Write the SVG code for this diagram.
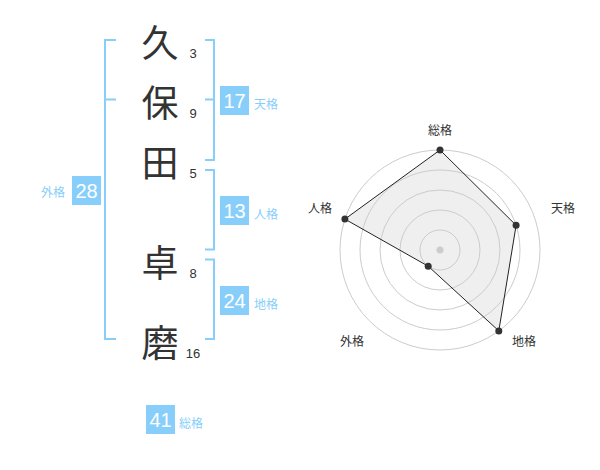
<svg xmlns="http://www.w3.org/2000/svg" width="600" height="470" viewBox="0 0 600 470">
<style>
.bk{fill:none;stroke:#87CEFA;stroke-width:2}
.ch{font-family:"Noto Sans CJK JP","Noto Sans CJK SC",sans-serif;font-size:37px;fill:#333;text-anchor:middle}
.st{font-family:"Liberation Sans",Arial,sans-serif;font-size:13px;fill:#333;text-anchor:middle}
.bx{fill:#87CEFA}
.bn{font-family:"Liberation Sans",Arial,sans-serif;font-size:20px;fill:#fff;text-anchor:middle}
.bl{font-family:"Liberation Sans","Noto Sans CJK JP",sans-serif;font-size:12px;fill:#87CEFA}
.ring{fill:none;stroke:#ccc;stroke-width:1}
.rl{font-family:"Liberation Sans","Noto Sans CJK JP",sans-serif;font-size:12px;fill:#333;text-anchor:middle}
.pt{fill:#333}
</style>
<rect width="600" height="470" fill="#fff"/>
<g id="connectors">
<path class="bk" d="M116,40 H105 V339 H116 M105,99.5 H116"/>
<path class="bk" d="M205,40 H214 V160 H205 M214,99.5 H205"/>
<path class="bk" d="M205,170 H214 V249.5 H205"/>
<path class="bk" d="M205,259.5 H214 V339 H205"/>
</g>
<g id="char-ku"><text class="ch" x="160" y="57">久</text><text class="st" x="193" y="57.5">3</text></g>
<g id="char-ho"><text class="ch" x="160" y="117">保</text><text class="st" x="193" y="117.5">9</text></g>
<g id="char-ta"><text class="ch" x="160" y="177">田</text><text class="st" x="193" y="177.5">5</text></g>
<g id="char-taku"><text class="ch" x="160" y="277">卓</text><text class="st" x="193" y="277.5">8</text></g>
<g id="char-ma"><text class="ch" x="160" y="357">磨</text><text class="st" x="193" y="357.5">16</text></g>
<g id="tenkaku"><rect class="bx" x="220" y="86" width="29" height="29"/><text class="bn" x="234.5" y="108">17</text><text class="bl" x="254" y="109">天格</text></g>
<g id="jinkaku"><rect class="bx" x="220" y="196" width="29" height="29"/><text class="bn" x="234.5" y="218">13</text><text class="bl" x="254" y="219">人格</text></g>
<g id="chikaku"><rect class="bx" x="220" y="286" width="29" height="29"/><text class="bn" x="234.5" y="308">24</text><text class="bl" x="254" y="309">地格</text></g>
<g id="gaikaku"><rect class="bx" x="72" y="176" width="29" height="29"/><text class="bn" x="86.5" y="198">28</text><text class="bl" x="65" y="197" text-anchor="end">外格</text></g>
<g id="soukaku"><rect class="bx" x="146" y="405" width="29" height="29"/><text class="bn" x="160.5" y="427">41</text><text class="bl" x="179" y="428">総格</text></g>
<g id="radar">
<polygon points="440,150 516.1,225.3 498.8,330.9 428.2,266.2 344.9,219.1" fill="#efefef" stroke="none"/>
<circle class="ring" cx="440" cy="250" r="20"/>
<circle class="ring" cx="440" cy="250" r="40"/>
<circle class="ring" cx="440" cy="250" r="60"/>
<circle class="ring" cx="440" cy="250" r="80"/>
<circle class="ring" cx="440" cy="250" r="100"/>
<circle cx="440" cy="250" r="3.5" fill="#ccc"/>
<polygon points="440,150 516.1,225.3 498.8,330.9 428.2,266.2 344.9,219.1" fill="none" stroke="#222" stroke-width="1"/>
<circle class="pt" cx="440" cy="150" r="3.5"/>
<circle class="pt" cx="516.1" cy="225.3" r="3.5"/>
<circle class="pt" cx="498.8" cy="330.9" r="3.5"/>
<circle class="pt" cx="428.2" cy="266.2" r="3.5"/>
<circle class="pt" cx="344.9" cy="219.1" r="3.5"/>
<text class="rl" x="440" y="135">総格</text>
<text class="rl" x="563" y="213">天格</text>
<text class="rl" x="524" y="346">地格</text>
<text class="rl" x="352" y="346">外格</text>
<text class="rl" x="320" y="213">人格</text>
</g>
</svg>
